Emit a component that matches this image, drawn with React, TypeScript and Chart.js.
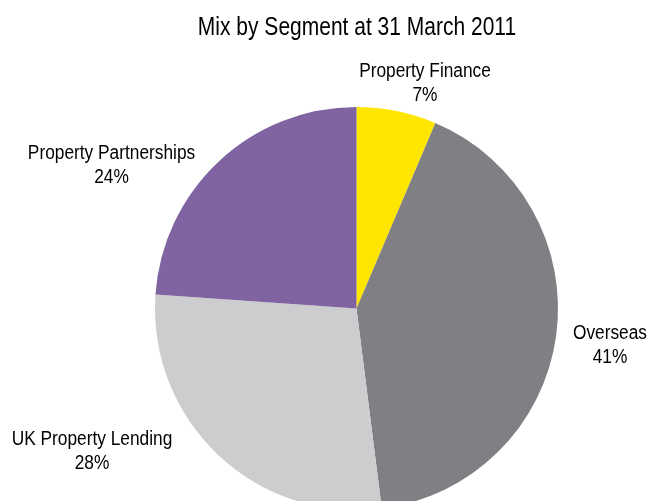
import React, { useEffect, useRef } from "react";
import { Chart, registerables } from "chart.js";

Chart.register(...registerables);

const title = "Mix by Segment at 31 March 2011";
const categories = ["Property Finance", "Overseas", "UK Property Lending", "Property Partnerships"];
const shares = [6.4, 41.6, 28.1, 23.9];
const percentLabels = ["7%", "41%", "28%", "24%"];
const colors = ["#FFE600", "#807F83", "#CDCDCF", "#8064A2"];

// label block centres, as offsets from the pie centre (px)
const labelOffsets: [number, number][] = [
  [68.5, -227],
  [253.5, 35.5],
  [-264.5, 141.5],
  [-245, -144.5],
];

const FONT = '"Liberation Sans", Arial, sans-serif';

function narrowText(ctx: CanvasRenderingContext2D, text: string, x: number, y: number, squeeze: number) {
  ctx.save();
  ctx.translate(x, y);
  ctx.scale(squeeze, 1);
  ctx.fillText(text, 0, 0);
  ctx.restore();
}

const textPlugin = {
  id: "textPlugin",
  afterDraw(chart: any) {
    const ctx = chart.ctx;
    const meta = chart.getDatasetMeta(0);
    const arc0 = meta.data[0];
    const cx = arc0.x;
    const cy = arc0.y;
    ctx.save();
    ctx.fillStyle = "#000000";
    ctx.textAlign = "center";
    ctx.textBaseline = "alphabetic";
    ctx.font = `25px ${FONT}`;
    narrowText(ctx, title, cx + 0.5, 35, 0.84);
    ctx.font = `20px ${FONT}`;
    categories.forEach((c, i) => {
      const [dx, dy] = labelOffsets[i];
      const x = cx + dx;
      const y = cy + dy;
      narrowText(ctx, c, x, y - 5, 0.865);
      narrowText(ctx, percentLabels[i], x, y + 19, 0.865);
    });
    ctx.restore();
  },
};

export default function App() {
  const ref = useRef<HTMLCanvasElement | null>(null);
  useEffect(() => {
    if (!ref.current) return;
    const chart = new Chart(ref.current, {
      type: "pie",
      data: {
        labels: categories,
        datasets: [
          {
            data: shares,
            backgroundColor: colors,
            borderWidth: 0,
          },
        ],
      },
      options: {
        responsive: false,
        animation: false,
        devicePixelRatio: 1,
        layout: { padding: { left: 155, right: 94, top: 107, bottom: 50 } },
        plugins: {
          legend: { display: false },
          title: { display: false },
          tooltip: { enabled: false },
        },
      },
      plugins: [textPlugin],
    });
    return () => chart.destroy();
  }, []);
  return (
    <div style={{ position: "fixed", left: 0, top: 0, width: 652, height: 560, background: "#ffffff" }}>
      <canvas ref={ref} width={652} height={560} />
    </div>
  );
}
